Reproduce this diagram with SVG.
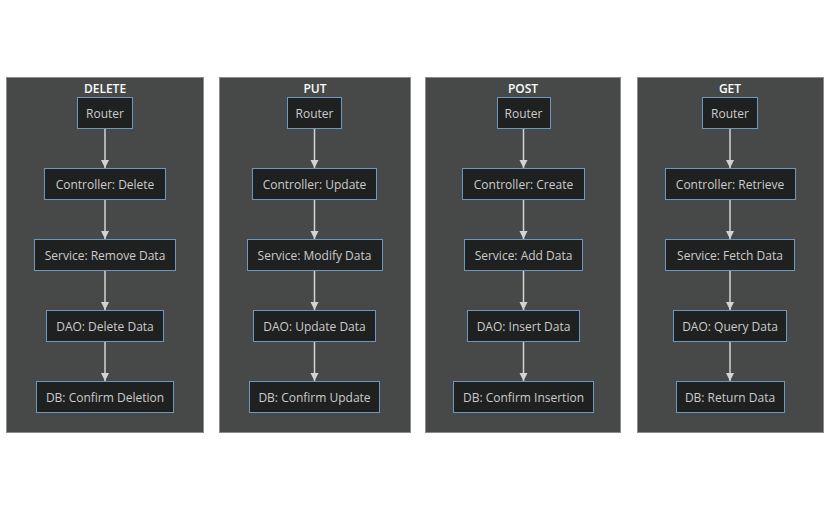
<svg xmlns="http://www.w3.org/2000/svg" width="831" height="511" viewBox="0 0 831 511">
<defs>
<style>
.cl{fill:#474949;stroke:#8c8c8c;stroke-width:1}
.ct{fill:#f9fffe;font-family:"Open Sans","Liberation Sans",Arial,sans-serif;font-size:12px;font-weight:600;text-anchor:middle}
.n rect{fill:#1f2020;stroke:#6e97bd;stroke-width:1}
.n text{fill:#cccccc;font-family:"Open Sans","Liberation Sans",Arial,sans-serif;font-size:12px;text-anchor:middle}
.e{stroke:#d3d3d3;stroke-width:1.5;fill:none;marker-end:url(#ah)}
</style>
<marker id="ah" viewBox="0 0 10 10" refX="10" refY="5" markerWidth="5.5" markerHeight="5.5" orient="auto" markerUnits="strokeWidth">
<path d="M0,0 L10,5 L0,10 z" fill="#d3d3d3"/>
</marker>
</defs>
<rect width="831" height="511" fill="#ffffff"/>
<g id="clusters">
<g id="cluster-delete"><rect class="cl" x="6.5" y="77.5" width="197" height="355"/><text class="ct" x="105" y="93">DELETE</text></g>
<g id="cluster-put"><rect class="cl" x="219.5" y="77.5" width="191" height="355"/><text class="ct" x="315" y="93">PUT</text></g>
<g id="cluster-post"><rect class="cl" x="425.5" y="77.5" width="195" height="355"/><text class="ct" x="523" y="93">POST</text></g>
<g id="cluster-get"><rect class="cl" x="637.5" y="77.5" width="186" height="355"/><text class="ct" x="730" y="93">GET</text></g>
</g>
<g id="edges">
<path class="e" d="M105,129 V168"/><path class="e" d="M105,200 V239"/><path class="e" d="M105,271 V310"/><path class="e" d="M105,342 V381"/>
<path class="e" d="M314.5,129 V168"/><path class="e" d="M314.5,200 V239"/><path class="e" d="M314.5,271 V310"/><path class="e" d="M314.5,342 V381"/>
<path class="e" d="M523.5,129 V168"/><path class="e" d="M523.5,200 V239"/><path class="e" d="M523.5,271 V310"/><path class="e" d="M523.5,342 V381"/>
<path class="e" d="M730,129 V168"/><path class="e" d="M730,200 V239"/><path class="e" d="M730,271 V310"/><path class="e" d="M730,342 V381"/>
</g>
<g id="d-router" class="n"><rect x="77.5" y="97.5" width="55" height="31"/><text x="105" y="117.5">Router</text></g>
<g id="d-controller" class="n"><rect x="44.5" y="168.5" width="121" height="31"/><text x="105" y="188.5">Controller: Delete</text></g>
<g id="d-service" class="n"><rect x="34.5" y="239.5" width="141" height="31"/><text x="105" y="259.5">Service: Remove Data</text></g>
<g id="d-dao" class="n"><rect x="46.5" y="310.5" width="117" height="31"/><text x="105" y="330.5">DAO: Delete Data</text></g>
<g id="d-db" class="n"><rect x="36.5" y="381.5" width="137" height="31"/><text x="105" y="401.5">DB: Confirm Deletion</text></g>
<g id="u-router" class="n"><rect x="287.5" y="97.5" width="54" height="31"/><text x="314.5" y="117.5">Router</text></g>
<g id="u-controller" class="n"><rect x="252.5" y="168.5" width="124" height="31"/><text x="314.5" y="188.5">Controller: Update</text></g>
<g id="u-service" class="n"><rect x="247.5" y="239.5" width="135" height="31"/><text x="314.5" y="259.5">Service: Modify Data</text></g>
<g id="u-dao" class="n"><rect x="253.5" y="310.5" width="122" height="31"/><text x="314.5" y="330.5">DAO: Update Data</text></g>
<g id="u-db" class="n"><rect x="249.5" y="381.5" width="130" height="31"/><text x="314.5" y="401.5">DB: Confirm Update</text></g>
<g id="p-router" class="n"><rect x="497.5" y="97.5" width="53" height="31"/><text x="523.5" y="117.5">Router</text></g>
<g id="p-controller" class="n"><rect x="462.5" y="168.5" width="122" height="31"/><text x="523.5" y="188.5">Controller: Create</text></g>
<g id="p-service" class="n"><rect x="464.5" y="239.5" width="118" height="31"/><text x="523.5" y="259.5">Service: Add Data</text></g>
<g id="p-dao" class="n"><rect x="467.5" y="310.5" width="112" height="31"/><text x="523.5" y="330.5">DAO: Insert Data</text></g>
<g id="p-db" class="n"><rect x="453.5" y="381.5" width="140" height="31"/><text x="523.5" y="401.5">DB: Confirm Insertion</text></g>
<g id="g-router" class="n"><rect x="702.5" y="97.5" width="55" height="31"/><text x="730" y="117.5">Router</text></g>
<g id="g-controller" class="n"><rect x="665.5" y="168.5" width="130" height="31"/><text x="730" y="188.5">Controller: Retrieve</text></g>
<g id="g-service" class="n"><rect x="665.5" y="239.5" width="129" height="31"/><text x="730" y="259.5">Service: Fetch Data</text></g>
<g id="g-dao" class="n"><rect x="673.5" y="310.5" width="113" height="31"/><text x="730" y="330.5">DAO: Query Data</text></g>
<g id="g-db" class="n"><rect x="676.5" y="381.5" width="108" height="31"/><text x="730" y="401.5">DB: Return Data</text></g>
</svg>
